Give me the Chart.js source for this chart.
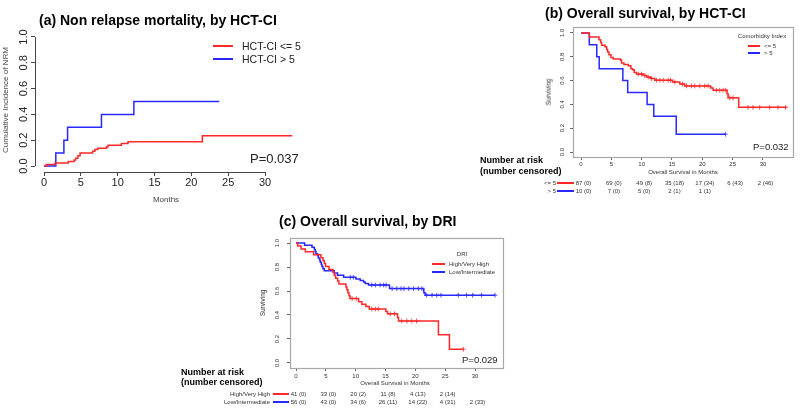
<!DOCTYPE html>
<html>
<head>
<meta charset="utf-8">
<script src="https://cdn.jsdelivr.net/npm/chart.js@4.4.1/dist/chart.umd.min.js"></script>
<style>
  html, body { margin: 0; padding: 0; background: #fff; }
  #page { position: relative; width: 800px; height: 409px; overflow: hidden; font-family: "Liberation Sans", Arial, sans-serif; }
  #page canvas { position: absolute; left: 0; top: 0; }
  .t { position: absolute; white-space: nowrap; line-height: 1; }
  .seg { position: absolute; }
</style>
</head>
<body>
<div id="page">
  <canvas id="chartA" width="800" height="409"></canvas>
  <canvas id="chartB" width="800" height="409"></canvas>
  <canvas id="chartC" width="800" height="409"></canvas>
</div>
<script>
const RED = "rgb(255,40,40)";
const BLUE = "rgb(40,40,255)";

// ticks
const monthTicks = [0, 5, 10, 15, 20, 25, 30];
const probTicks = [0, 0.2, 0.4, 0.6, 0.8, 1.0];

// (a) cumulative incidence of NRM
const aLowTime = [0, 0.3, 1.5, 3.3, 4.1, 4.3, 4.6, 4.9, 6.6, 6.9, 7.3, 8.5, 8.7, 10.5, 11.4, 21.5, 33.7];
const aLowNrm = [0, 0.012, 0.023, 0.035, 0.046, 0.06, 0.08, 0.10, 0.115, 0.127, 0.138, 0.15, 0.161, 0.175, 0.188, 0.235, 0.235];
const aHighTime = [0, 1.6, 2.7, 3.2, 7.8, 12.2, 23.8];
const aHighNrm = [0, 0.1, 0.2, 0.3, 0.4, 0.5, 0.5];

// (b) overall survival by HCT-CI
const bLowTime = [0, 1.37, 2.96, 3.24, 3.40, 3.95, 4.22, 4.39, 4.61, 4.94, 5.32, 6.53, 6.69, 7.08, 7.79, 8.23, 8.50, 8.78, 9.16, 10.26, 10.81, 11.46, 12.18, 15.09, 16.29, 17.11, 21.39, 21.78, 24.08, 24.25, 26.0, 33.85];
const bLowSurv = [1, 0.966, 0.943, 0.92, 0.897, 0.885, 0.862, 0.839, 0.816, 0.793, 0.782, 0.77, 0.747, 0.735, 0.724, 0.70, 0.69, 0.667, 0.655, 0.643, 0.63, 0.617, 0.603, 0.588, 0.571, 0.555, 0.537, 0.519, 0.49, 0.455, 0.375, 0.375];
const bLowCensor = [9.43, 9.98, 10.53, 11.08, 11.63, 12.45, 13.0, 13.55, 14.37, 14.76, 15.47, 16.73, 17.39, 18.21, 18.76, 19.58, 20.41, 20.95, 22.33, 22.87, 23.42, 23.86, 24.52, 25.07, 27.54, 28.36, 29.46, 31.1, 32.47, 33.74];
const bHighTime = [0, 1.37, 2.6, 3.0, 6.9, 7.7, 10.9, 12.0, 15.7, 23.8];
const bHighSurv = [1, 0.9, 0.8, 0.7, 0.6, 0.5, 0.4, 0.3, 0.15, 0.15];
const bHighCensor = [23.8];
const bRiskLow = ["87 (0)", "69 (0)", "49 (8)", "35 (18)", "17 (34)", "6 (43)", "2 (46)"];
const bRiskHigh = ["10 (0)", "7 (0)", "5 (0)", "2 (1)", "1 (1)"];

// (c) overall survival by DRI
const cHighTime = [0, 0.28, 0.84, 1.56, 2.96, 4.18, 4.52, 4.74, 4.96, 5.52, 6.19, 6.41, 6.64, 6.97, 7.19, 8.37, 8.53, 8.70, 8.87, 9.04, 10.49, 11.04, 11.71, 12.27, 15.06, 15.34, 17.01, 17.18, 23.87, 25.71, 28.05];
const cHighSurv = [1, 0.976, 0.951, 0.927, 0.902, 0.878, 0.854, 0.829, 0.805, 0.78, 0.756, 0.732, 0.707, 0.683, 0.659, 0.634, 0.61, 0.585, 0.561, 0.537, 0.51, 0.49, 0.47, 0.45, 0.43, 0.41, 0.38, 0.35, 0.235, 0.115, 0.115];
const cHighCensor = [9.4, 10.1, 12.7, 13.3, 13.8, 15.8, 16.5, 17.7, 18.6, 19.4, 20.2, 28.05];
const cLowTime = [0, 1.45, 2.68, 3.07, 3.23, 3.35, 3.63, 3.74, 3.96, 4.07, 4.24, 4.35, 4.52, 4.74, 6.41, 6.97, 7.98, 10.04, 10.76, 11.32, 11.60, 12.16, 15.67, 21.42, 21.64, 33.35];
const cLowSurv = [1, 0.982, 0.964, 0.946, 0.929, 0.911, 0.893, 0.875, 0.857, 0.839, 0.821, 0.804, 0.786, 0.768, 0.75, 0.732, 0.714, 0.70, 0.688, 0.675, 0.662, 0.65, 0.62, 0.585, 0.565, 0.565];
const cLowCensor = [9.1, 9.6, 12.7, 13.3, 14.1, 14.7, 15.1, 16.1, 16.9, 17.6, 18.1, 18.9, 19.7, 20.5, 21.1, 21.9, 22.8, 23.6, 24.3, 27.2, 28.6, 29.6, 31.1, 33.35];
const cRiskHigh = ["41 (0)", "33 (0)", "20 (2)", "11 (8)", "4 (13)", "2 (14)"];
const cRiskLow = ["56 (0)", "43 (0)", "34 (6)", "26 (11)", "14 (22)", "4 (31)", "2 (33)"];

const FONT = '"Liberation Sans", Arial, sans-serif';
const page = document.getElementById("page");

function stepAt(times, vals, t) {
  let v = vals[0];
  for (let i = 0; i < times.length; i++) if (times[i] <= t) v = vals[i];
  return v;
}

function addText(txt, x, y, opt = {}) {
  const d = document.createElement("div");
  d.className = "t";
  d.textContent = txt;
  d.style.left = x + "px";
  d.style.top = y + "px";
  d.style.fontSize = (opt.size || 10) + "px";
  d.style.color = opt.color || "#000";
  if (opt.bold) d.style.fontWeight = "bold";
  const ax = { left: "0", center: "-50%", right: "-100%" }[opt.align || "left"];
  d.style.transform = opt.rotate ? "translate(-50%,-50%) rotate(-90deg)" : `translate(${ax},-50%)`;
  page.appendChild(d);
}

// legend / risk table line sample
function addSeg(x1, x2, y, color) {
  const d = document.createElement("div");
  d.className = "seg";
  d.style.left = x1 + "px";
  d.style.width = (x2 - x1) + "px";
  d.style.top = (y - 1) + "px";
  d.style.height = "2px";
  d.style.backgroundColor = color;
  page.appendChild(d);
}

// box / axis lines and tick labels in R style
const rAxes = {
  id: "rAxes",
  beforeDatasetsDraw(chart, args, o) {
    const { ctx, chartArea: ca, scales: { x, y } } = chart;
    ctx.save();
    if (o.box) {
      ctx.strokeStyle = o.boxColor;
      ctx.lineWidth = 1.2;
      ctx.strokeRect(ca.left + 0.5, ca.top + 0.5, ca.width, ca.height);
    } else {
      ctx.strokeStyle = o.tickColor;
      ctx.lineWidth = 1;
      ctx.beginPath();
      ctx.moveTo(ca.left + 0.5, y.getPixelForValue(y.ticks[0].value));
      ctx.lineTo(ca.left + 0.5, y.getPixelForValue(y.ticks[y.ticks.length - 1].value));
      ctx.moveTo(x.getPixelForValue(x.ticks[0].value), ca.bottom + 0.5);
      ctx.lineTo(x.getPixelForValue(x.ticks[x.ticks.length - 1].value), ca.bottom + 0.5);
      ctx.stroke();
    }
    ctx.fillStyle = o.labelColor;
    ctx.font = o.tickSize + "px " + FONT;
    ctx.textAlign = "center";
    ctx.textBaseline = "middle";
    x.ticks.forEach(t => ctx.fillText(String(t.value), x.getPixelForValue(t.value), o.xLabelY));
    y.ticks.forEach(t => {
      ctx.save();
      ctx.translate(o.yLabelX, y.getPixelForValue(t.value));
      ctx.rotate(-Math.PI / 2);
      ctx.fillText(t.value.toFixed(1), 0, 0);
      ctx.restore();
    });
    ctx.restore();
  }
};

function curve(times, vals, color) {
  return {
    data: times.map((t, i) => ({ x: t, y: vals[i] })),
    borderColor: color, borderWidth: 1.5, stepped: true,
    pointRadius: 0, fill: false, tension: 0
  };
}

function marks(ct, times, vals, color) {
  return {
    data: ct.map(t => ({ x: t, y: stepAt(times, vals, t) })),
    showLine: false, pointStyle: "cross", pointRadius: 2.4,
    pointBorderWidth: 0.8, borderColor: color, backgroundColor: color
  };
}

function makeChart(id, area, xr, yr, datasets, o) {
  return new Chart(document.getElementById(id), {
    type: "line",
    data: { datasets },
    plugins: [rAxes],
    options: {
      responsive: false,
      animation: false,
      events: [],
      layout: { padding: { left: area[0], top: area[1], right: 800 - area[2], bottom: 409 - area[3] } },
      plugins: { legend: { display: false }, tooltip: { enabled: false }, rAxes: o },
      scales: {
        x: {
          type: "linear", min: xr[0], max: xr[1],
          afterBuildTicks: s => { s.ticks = monthTicks.map(v => ({ value: v })); },
          afterFit: s => { s.height = 0; },
          ticks: { display: false },
          grid: { drawOnChartArea: false, drawTicks: true, tickLength: o.tickLen, color: o.tickColor },
          border: { display: false }
        },
        y: {
          type: "linear", min: yr[0], max: yr[1],
          afterBuildTicks: s => { s.ticks = probTicks.map(v => ({ value: v })); },
          afterFit: s => { s.width = 0; },
          ticks: { display: false },
          grid: { drawOnChartArea: false, drawTicks: true, tickLength: o.tickLen, color: o.tickColor },
          border: { display: false }
        }
      }
    }
  });
}

// (a)
makeChart("chartA", [35, 31, 300, 172], [-1.222, 34.75], [-0.0465, 1.0465], [
  curve(aLowTime, aLowNrm, RED),
  curve(aHighTime, aHighNrm, BLUE)
], { box: false, tickColor: "#444", tickLen: 4, labelColor: "#222", tickSize: 11, xLabelY: 183, yLabelX: 24 });

// (b)
const chartB = makeChart("chartB", [573, 27, 793, 157], [-1.319, 34.95], [-0.042, 1.05], [
  curve(bLowTime, bLowSurv, RED),
  curve(bHighTime, bHighSurv, BLUE),
  marks(bLowCensor, bLowTime, bLowSurv, RED),
  marks(bHighCensor, bHighTime, bHighSurv, BLUE)
], { box: true, boxColor: "#a8a8a8", tickColor: "#666", tickLen: 3, labelColor: "#333", tickSize: 6, xLabelY: 164, yLabelX: 562 });

// (c)
const chartC = makeChart("chartC", [290, 238, 503, 368], [-1.006, 34.69], [-0.0417, 1.0417], [
  curve(cHighTime, cHighSurv, RED),
  curve(cLowTime, cLowSurv, BLUE),
  marks(cHighCensor, cHighTime, cHighSurv, RED),
  marks(cLowCensor, cLowTime, cLowSurv, BLUE)
], { box: true, boxColor: "#a8a8a8", tickColor: "#666", tickLen: 3, labelColor: "#333", tickSize: 6, xLabelY: 376, yLabelX: 277 });

// titles
addText("(a) Non relapse mortality, by HCT-CI", 39, 20, { size: 14, bold: true });
addText("(b) Overall survival, by HCT-CI", 545, 13, { size: 14, bold: true });
addText("(c) Overall survival, by DRI", 279, 221, { size: 14, bold: true });

// (a) texts
addText("Cumulative Incidence of NRM", 6, 100, { size: 8, rotate: true, color: "#444" });
addText("Months", 166, 200, { size: 8, align: "center", color: "#444" });
addSeg(213, 233, 46, RED);
addSeg(213, 233, 59, BLUE);
addText("HCT-CI <= 5", 242, 46, { size: 10.5, color: "#222" });
addText("HCT-CI > 5", 242, 59, { size: 10.5, color: "#222" });
addText("P=0.037", 250, 158, { size: 13, color: "#222" });

// (b) texts
addText("Surviving", 549, 92, { size: 6.5, rotate: true, color: "#333" });
addText("Overall Survival in Months", 683, 172, { size: 6, align: "center", color: "#333" });
addText("Comorbidity Index", 762, 36, { size: 6, align: "center", color: "#333" });
addSeg(748, 760, 46, RED);
addSeg(748, 760, 53, BLUE);
addText("<= 5", 764, 46, { size: 6, color: "#333" });
addText("> 5", 764, 53, { size: 6, color: "#333" });
addText("P=0.032", 753, 147, { size: 9.5, color: "#222" });
addText("Number at risk", 480, 160, { size: 9, bold: true });
addText("(number censored)", 480, 171, { size: 9, bold: true });
addText("<= 5", 556, 183, { size: 6, align: "right", color: "#333" });
addText("> 5", 556, 190.5, { size: 6, align: "right", color: "#333" });
addSeg(557, 574, 183, RED);
addSeg(557, 574, 190.5, BLUE);
bRiskLow.forEach((s, i) => addText(s, chartB.scales.x.getPixelForValue(monthTicks[i]) + 2.5, 183, { size: 6, align: "center", color: "#333" }));
bRiskHigh.forEach((s, i) => addText(s, chartB.scales.x.getPixelForValue(monthTicks[i]) + 2.5, 190.5, { size: 6, align: "center", color: "#333" }));

// (c) texts
addText("Surviving", 263, 303, { size: 6.5, rotate: true, color: "#333" });
addText("Overall Survival in Months", 395, 383, { size: 6, align: "center", color: "#333" });
addText("DRI", 462, 254, { size: 6, align: "center", color: "#333" });
addSeg(432, 445, 264, RED);
addSeg(432, 445, 272, BLUE);
addText("High/Very High", 449, 264, { size: 6, color: "#333" });
addText("Low/Intermediate", 449, 272, { size: 6, color: "#333" });
addText("P=0.029", 462, 360, { size: 9.5, color: "#222" });
addText("Number at risk", 181, 372, { size: 9, bold: true });
addText("(number censored)", 181, 382, { size: 9, bold: true });
addText("High/Very High", 270, 394, { size: 6, align: "right", color: "#333" });
addText("Low/Intermediate", 270, 402, { size: 6, align: "right", color: "#333" });
addSeg(273, 289, 394, RED);
addSeg(273, 289, 402, BLUE);
cRiskHigh.forEach((s, i) => addText(s, chartC.scales.x.getPixelForValue(monthTicks[i]) + 2.5, 394, { size: 6, align: "center", color: "#333" }));
cRiskLow.forEach((s, i) => addText(s, chartC.scales.x.getPixelForValue(monthTicks[i]) + 2.5, 402, { size: 6, align: "center", color: "#333" }));
</script>
</body>
</html>
